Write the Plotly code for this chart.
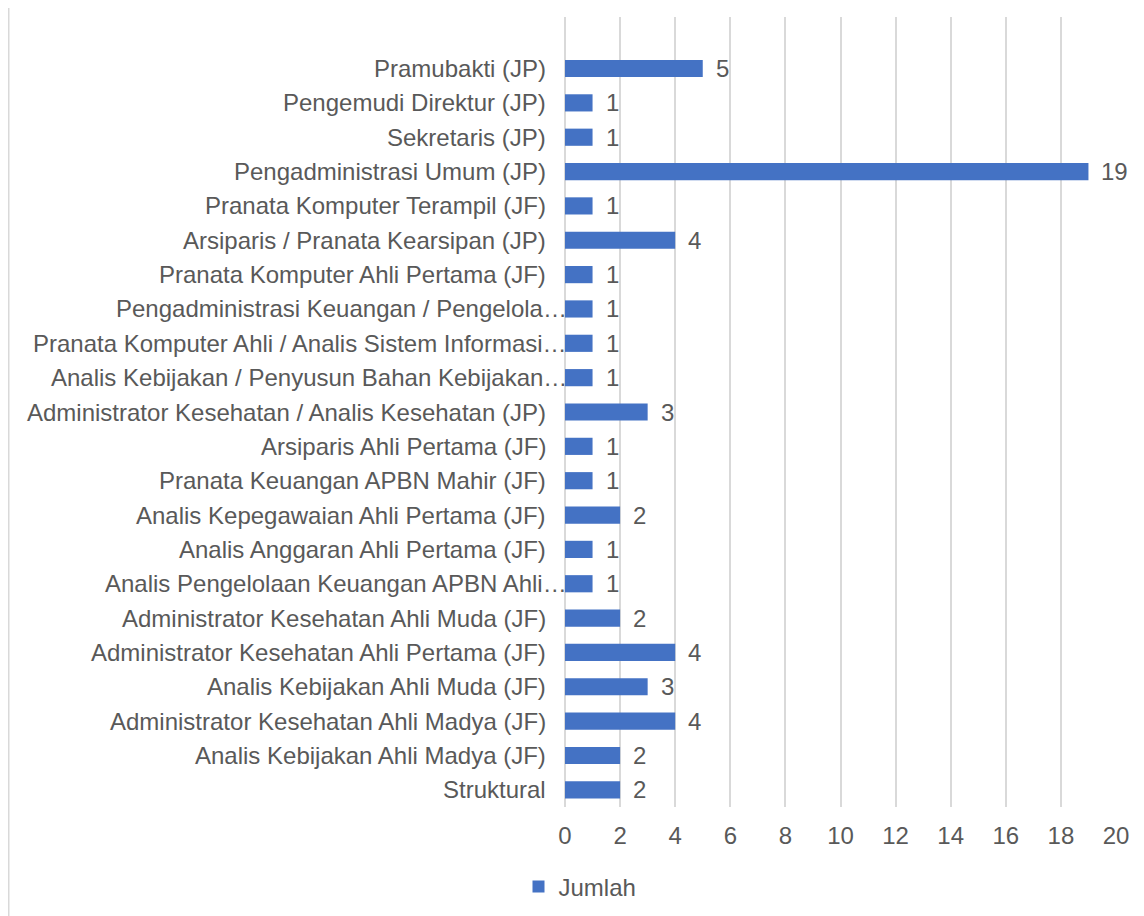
import plotly.graph_objects as go

# Categories as displayed, top to bottom
categories = [
    "Pramubakti (JP)",
    "Pengemudi Direktur (JP)",
    "Sekretaris (JP)",
    "Pengadministrasi Umum (JP)",
    "Pranata Komputer Terampil (JF)",
    "Arsiparis / Pranata Kearsipan (JP)",
    "Pranata Komputer Ahli Pertama (JF)",
    "Pengadministrasi Keuangan / Pengelola…",
    "Pranata Komputer Ahli / Analis Sistem Informasi…",
    "Analis Kebijakan / Penyusun Bahan Kebijakan…",
    "Administrator Kesehatan / Analis Kesehatan (JP)",
    "Arsiparis Ahli Pertama (JF)",
    "Pranata Keuangan APBN Mahir (JF)",
    "Analis Kepegawaian Ahli Pertama (JF)",
    "Analis Anggaran Ahli Pertama (JF)",
    "Analis Pengelolaan Keuangan APBN Ahli…",
    "Administrator Kesehatan Ahli Muda (JF)",
    "Administrator Kesehatan Ahli Pertama (JF)",
    "Analis Kebijakan Ahli Muda (JF)",
    "Administrator Kesehatan Ahli Madya (JF)",
    "Analis Kebijakan Ahli Madya (JF)",
    "Struktural",
]
jumlah = [5, 1, 1, 19, 1, 4, 1, 1, 1, 1, 3, 1, 1, 2, 1, 1, 2, 4, 3, 4, 2, 2]
x_ticks = [0, 2, 4, 6, 8, 10, 12, 14, 16, 18, 20]
series_name = "Jumlah"

cats = categories[::-1]
vals = jumlah[::-1]

FONT = "Liberation Sans, Arial, sans-serif"
TXT = "#595959"
GRID = "#d9d9d9"
BAR = "#4472C4"
FS = 24

fig = go.Figure()
fig.add_trace(go.Bar(
    x=vals, y=cats, orientation="h", name=series_name,
    marker=dict(color=BAR, line=dict(width=0)),
    width=0.5,
))

# value labels
for v, c in zip(vals, cats):
    fig.add_annotation(x=v, y=c, text=str(v), showarrow=False,
                       xanchor="left", yanchor="middle", xshift=11,
                       font=dict(family=FONT, size=FS, color=TXT))

# category labels (truncated ones run up to the axis, as in the original)
for c in cats:
    shift = 4 if c.endswith("…") else -17
    fig.add_annotation(x=0, xref="paper", y=c, yref="y", text=c,
                       showarrow=False, xanchor="right", yanchor="middle",
                       xshift=shift,
                       font=dict(family=FONT, size=FS, color=TXT))

# page is offset by the 8px body margin
W, H = 1136, 908
ml, mr, mt, mb = 557, 28, 9, 109
pw = W - ml - mr
ph = H - mt - mb

# left border of chart frame
fig.add_shape(type="line", xref="paper", yref="paper",
              x0=(0.5 - ml) / pw, x1=(0.5 - ml) / pw,
              y0=-(mb + 20) / ph, y1=1 + (mt + 20) / ph,
              line=dict(color=GRID, width=2))

fig.update_layout(
    width=W, height=H,
    margin=dict(l=ml, r=mr, t=mt, b=mb, autoexpand=False),
    paper_bgcolor="white", plot_bgcolor="white",
    font=dict(family=FONT, size=FS, color=TXT),
    bargap=0.5,
    showlegend=True,
    legend=dict(orientation="h", x=(572 - ml) / pw, xanchor="center",
                y=-(879 - (H - mb)) / ph, yanchor="middle",
                font=dict(family=FONT, size=FS, color=TXT),
                itemwidth=30, bgcolor="rgba(0,0,0,0)"),
    xaxis=dict(range=[0, 20], tickvals=x_ticks, showgrid=True,
               gridcolor=GRID, gridwidth=1.5, zeroline=True,
               zerolinecolor=GRID, zerolinewidth=1.5, showline=False,
               ticks="", ticklabelstandoff=12,
               tickfont=dict(family=FONT, size=FS, color=TXT),
               fixedrange=True),
    yaxis=dict(type="category", categoryorder="array", categoryarray=cats,
               range=[-0.5, 22.5], showgrid=False, zeroline=False,
               showline=False, ticks="", showticklabels=False,
               automargin=False),
)

fig.write_html("out.html")
